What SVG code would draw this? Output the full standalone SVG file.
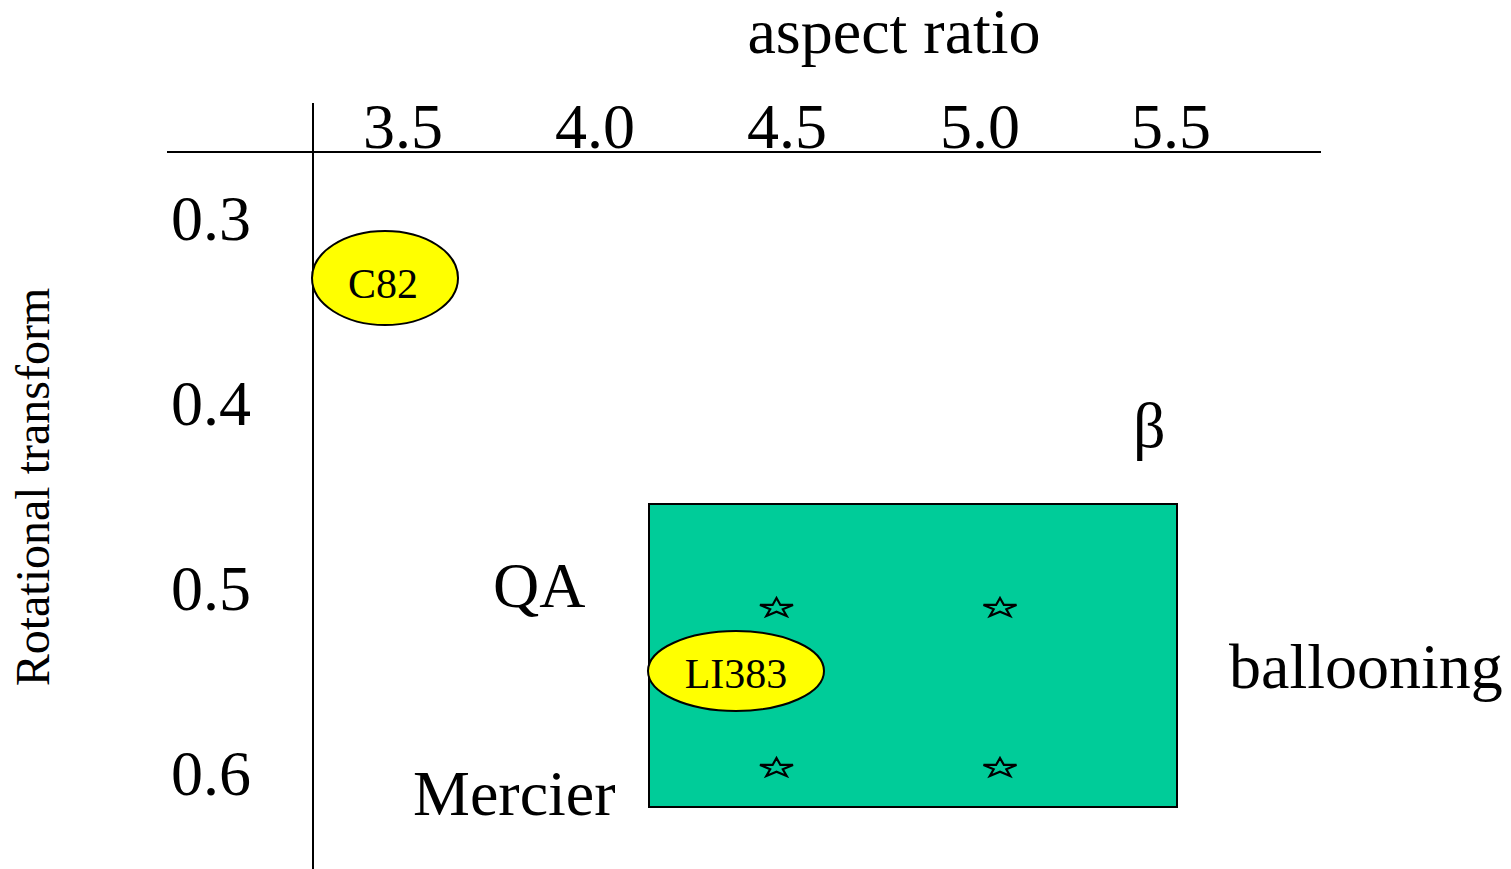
<svg xmlns="http://www.w3.org/2000/svg" width="1511" height="869" viewBox="0 0 1511 869">
<style>
text{font-family:"Liberation Serif","Times New Roman",serif;fill:#000}
.big{font-size:64px}
.lab{font-size:42px;text-anchor:middle}
.ax{stroke:#000;stroke-width:2;fill:none}
.oval{fill:#ffff00;stroke:#000;stroke-width:2}
.star{fill:none;stroke:#000;stroke-width:2.2;stroke-linejoin:miter}
</style>
<defs>
<path id="star" d="M0,-9.95 L3.9,-3.07 L16.5,-3.07 L6.3,1.17 L10.2,8.05 L0,3.8 L-10.2,8.05 L-6.3,1.17 L-16.5,-3.07 L-3.9,-3.07 Z"/>
</defs>
<rect width="1511" height="869" fill="#fff"/>
<g id="axes">
<line class="ax" x1="167" y1="152" x2="1321" y2="152"/>
<line class="ax" x1="313" y1="103" x2="313" y2="869"/>
</g>
<g id="titles">
<text class="big" x="894" y="53" text-anchor="middle">aspect ratio</text>
<text style="font-size:48px" text-anchor="middle" transform="translate(49,487) rotate(-90)">Rotational transform</text>
</g>
<g id="xticks" class="big" text-anchor="middle">
<text x="403" y="148">3.5</text>
<text x="595" y="148">4.0</text>
<text x="787" y="148">4.5</text>
<text x="980" y="148">5.0</text>
<text x="1171" y="148">5.5</text>
</g>
<g id="yticks" class="big" text-anchor="middle">
<text x="211" y="240">0.3</text>
<text x="211" y="425">0.4</text>
<text x="211" y="610">0.5</text>
<text x="211" y="795">0.6</text>
</g>
<g id="region">
<rect x="649" y="504" width="528" height="303" fill="#00cc99" stroke="#000" stroke-width="2"/>
<use href="#star" class="star" x="776.5" y="608"/>
<use href="#star" class="star" x="1000" y="608"/>
<use href="#star" class="star" x="776.5" y="768"/>
<use href="#star" class="star" x="1000" y="768"/>
</g>
<g id="c82">
<ellipse class="oval" cx="385" cy="278" rx="73" ry="47"/>
<text class="lab" x="383" y="298">C82</text>
</g>
<g id="li383">
<ellipse class="oval" cx="736" cy="671" rx="88" ry="40"/>
<text class="lab" x="736" y="688">LI383</text>
</g>
<g id="labels" class="big">
<text x="1133" y="447">β</text>
<text x="493" y="607">QA</text>
<text x="413" y="815">Mercier</text>
<text x="1229" y="688">ballooning</text>
</g>
</svg>
